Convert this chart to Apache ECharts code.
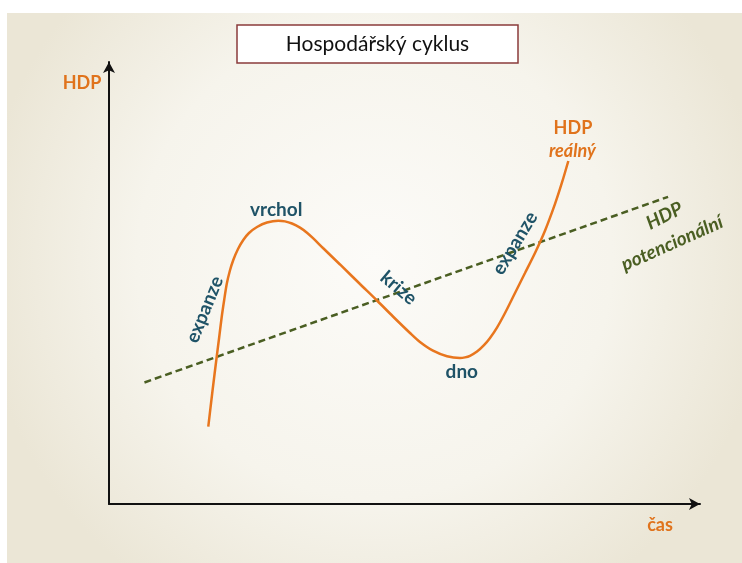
<!DOCTYPE html>
<html>
<head>
<meta charset="utf-8">
<script src="https://cdn.jsdelivr.net/npm/echarts@6/dist/echarts.min.js"></script>
<style>html,body{margin:0;padding:0;background:#fff;}#c{width:742px;height:563px;}</style>
</head>
<body>
<div id="c"></div>
<script>
// Real GDP (HDP reálný): [time, HDP]
const realGDP = [
  [16.80,17.49],[17.51,25.57],[18.22,33.26],[18.65,37.78],[19.07,42.31],[19.49,46.15],
  [19.92,49.77],[20.44,52.71],[21.03,55.20],[21.83,57.69],[22.72,59.73],[23.69,61.31],
  [25.04,62.67],[26.73,63.69],[28.65,64.10],[29.78,63.94],[30.96,63.46],[32.32,62.53],
  [33.50,61.38],[34.52,60.14],[36.21,57.92],[39.09,54.19],[42.47,49.77],[45.35,46.04],
  [48.05,42.42],[50.93,38.69],[52.62,36.65],[54.82,34.68],[57.19,33.42],[59.39,33.03],
  [60.24,33.17],[61.08,33.53],[62.27,34.48],[63.45,35.93],[64.47,37.56],[65.65,39.91],
  [67.01,43.21],[68.70,47.74],[70.39,52.26],[72.08,56.79],[73.77,61.83],[75.47,67.90],
  [76.65,72.74],[77.72,77.60]
];
// Potential GDP trend (HDP potencionální)
const potentialGDP = [[6.0,27.5],[94.6,69.5]];
// Annotations: [time, HDP, text, kind, rotation]
const annotations = [
  [28.3, 66.6, 'vrchol', 'teal', 0],
  [16.2, 44.0, 'expanze', 'teal', 68],
  [49.0, 48.9, 'krize', 'teal', -40],
  [59.7, 29.9, 'dno', 'teal', 0],
  [68.7, 59.0, 'expanze', 'teal', 59],
  [78.5, 85.0, 'HDP', 'orange', 0],
  [78.4, 79.8, 'reálný', 'orangeItalic', 0],
  [94.0, 65.2, 'HDP', 'green', 27],
  [95.3, 59.0, 'potencionální', 'green', 24]
];
const title = 'Hospodářský cyklus';
const yName = 'HDP';
const xName = 'čas';

const FONT = 'Lato, "Open Sans", sans-serif';
const styles = {
  teal: {color:'#1f5367', fontWeight:'bold', fontStyle:'normal', fontSize:19},
  orange: {color:'#e0731c', fontWeight:'bold', fontStyle:'normal', fontSize:18},
  orangeItalic: {color:'#e0731c', fontWeight:'bold', fontStyle:'italic', fontSize:18},
  green: {color:'#4a5e22', fontWeight:'bold', fontStyle:'italic', fontSize:19}
};

const chart = echarts.init(document.getElementById('c'));
chart.setOption({
  backgroundColor: '#ffffff',
  animation: false,
  grid: {left:109, top:62, right:42, bottom:59},
  xAxis: {
    type:'value', min:0, max:100,
    axisLine:{show:true, symbol:['none','arrow'], symbolSize:[9,11], lineStyle:{color:'#111', width:2}},
    axisTick:{show:false}, axisLabel:{show:false}, splitLine:{show:false}
  },
  yAxis: {
    type:'value', min:0, max:100,
    axisLine:{show:true, symbol:['none','arrow'], symbolSize:[9,11], lineStyle:{color:'#111', width:2}},
    axisTick:{show:false}, axisLabel:{show:false}, splitLine:{show:false}
  },
  graphic: [
    {type:'rect', z:-10, silent:true, shape:{x:7, y:13, width:735, height:550},
     style:{fill:{type:'radial', x:0.5, y:0.45, r:0.72, colorStops:[
       {offset:0, color:'#fcfbf8'},{offset:0.6, color:'#f6f4ec'},{offset:1, color:'#ebe6d6'}]}}},
    {type:'rect', shape:{x:237, y:25, width:281, height:38},
     style:{fill:'#ffffff', stroke:'#8a3b3b', lineWidth:1.5}},
    {type:'text', x:377.5, y:44, style:{text:title, fill:'#111', font:'21px ' + FONT, textAlign:'center', textVerticalAlign:'middle'}},
    {type:'text', x:82, y:83, style:{text:yName, fill:'#e0731c', font:'bold 18px ' + FONT, textAlign:'center', textVerticalAlign:'middle'}},
    {type:'text', x:660, y:525, style:{text:xName, fill:'#e0731c', font:'bold 18px ' + FONT, textAlign:'center', textVerticalAlign:'middle'}}
  ],
  series: [
    {type:'line', data:potentialGDP, showSymbol:false, silent:true,
     lineStyle:{color:'#4a5e22', width:2.5, type:[7,4]}},
    {type:'line', data:realGDP, smooth:0.3, showSymbol:false, silent:true,
     lineStyle:{color:'#e8761e', width:2.5}},
    {type:'scatter', symbolSize:0, silent:true, z:5, itemStyle:{opacity:1},
     data: annotations.map(a => ({
       value:[a[0], a[1]],
       label:Object.assign({show:true, position:'inside', formatter:a[2], rotate:a[4], fontFamily:FONT}, styles[a[3]])
     }))}
  ]
});
</script>
</body>
</html>
